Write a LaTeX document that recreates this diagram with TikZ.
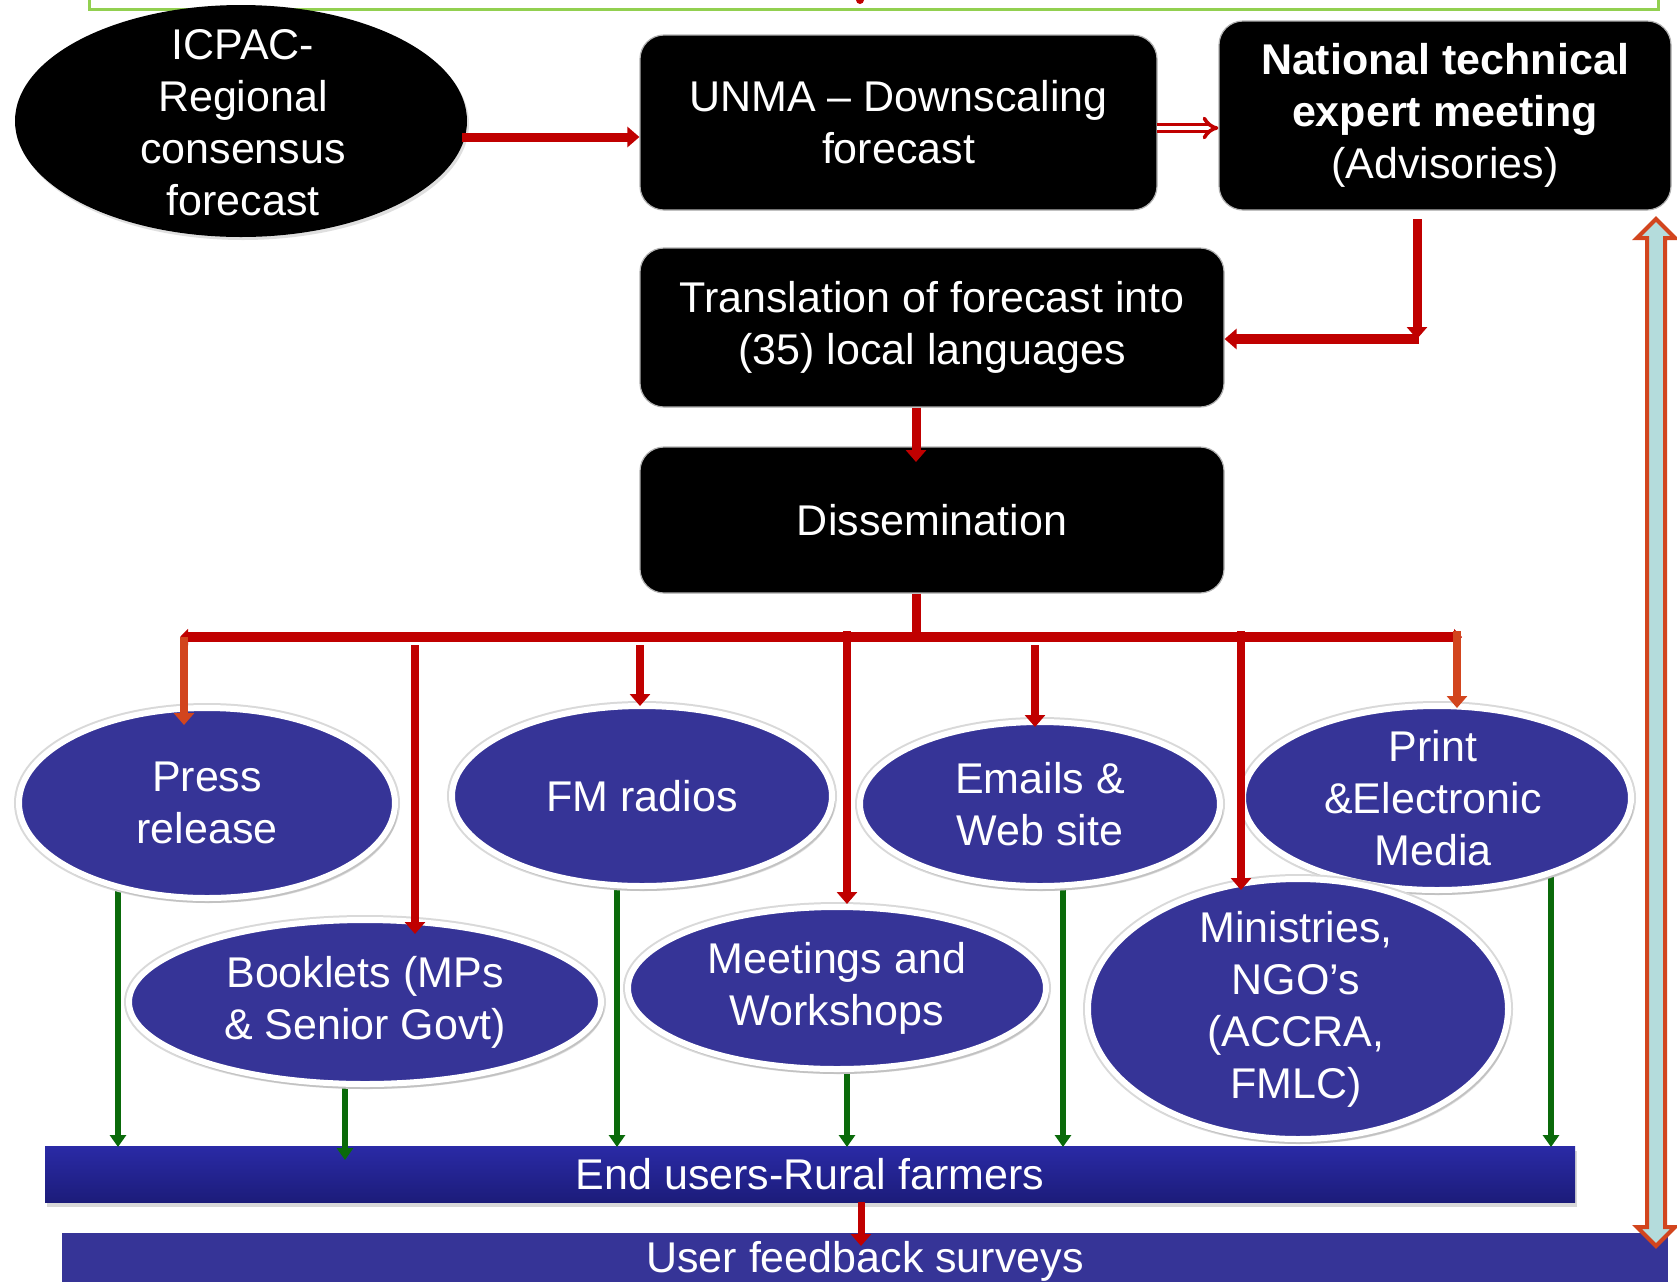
\documentclass[tikz,border=0pt]{standalone}
\usepackage{fontspec}
\setmainfont{Liberation Sans}
\usetikzlibrary{shapes.geometric,arrows.meta,shadows,calc}
\pgfdeclarelayer{back}
\pgfdeclarelayer{mid}
\pgfsetlayers{back,mid,main}
\definecolor{rd}{HTML}{C00000}
\definecolor{org}{HTML}{D2451E}
\definecolor{grn}{HTML}{0A6A0A}
\definecolor{blu}{HTML}{363497}
\definecolor{frm}{HTML}{92D050}
\definecolor{cyn}{HTML}{B4DCDC}
\definecolor{bartop}{HTML}{2A2AA6}
\definecolor{barbot}{HTML}{1C1C7A}
\begin{document}
\begin{tikzpicture}[x=0.5pt,y=-0.5pt,
  txt/.style={text=white, align=center, font=\fontsize{21.5pt}{26pt}\selectfont, inner sep=0pt},
  blk/.style={fill=black, draw=gray!60, line width=0.6pt, rounded corners=12pt, inner sep=0pt},
  bell/.style={ellipse, fill=blu, draw=white, line width=3pt, inner sep=0pt,
     preaction={draw=gray!30, line width=5pt},
     drop shadow={shadow xshift=1.5pt, shadow yshift=-2.5pt, opacity=0.25}},
  redarr/.style={draw=rd, line width=4.5pt, -{Triangle[width=10pt,length=6pt]}},
  redline/.style={draw=rd, line width=4.5pt},
  grnarr/.style={draw=grn, line width=3.2pt, -{Triangle[width=8pt,length=6pt]}},
  dblarr/.style={draw=rd, line width=1.8pt, double=white, double distance=1.8pt, -{Implies}},
  bar/.style={rectangle, inner sep=0pt, text=white, font=\fontsize{21.5pt}{26pt}\selectfont}
]
\useasboundingbox (0,0) rectangle (1677,1281);
\clip (0,0) rectangle (1677,1281);

% top frame remnant
\draw[frm, line width=1.5pt] (89,-20) rectangle (1658,9);
\fill[rd] (860,0) circle (2pt);

% top row
\node[ellipse, fill=black, minimum width=226pt, minimum height=116pt, inner sep=0pt,
      drop shadow={shadow xshift=1pt, shadow yshift=-1.5pt, opacity=0.25}] (icpac) at (241,121) {};
\node[txt] at (243,123) {ICPAC-\\Regional\\consensus\\forecast};

\node[blk, txt, minimum width=258.5pt, minimum height=87.5pt] (unma) at (898.5,122.5) {UNMA – Downscaling\\forecast};
\node[blk, txt, minimum width=226pt, minimum height=94.5pt] (nat) at (1445,115.5)
  {\textbf{National technical}\\\textbf{expert meeting}\\(Advisories)};
\node[blk, txt, minimum width=292pt, minimum height=79.5pt] (trans) at (932,327.5)
  {Translation of forecast into\\(35) local languages};
\node[blk, txt, minimum width=292pt, minimum height=73pt] (diss) at (932,520) {Dissemination};

% media ellipses
\node[bell, minimum width=188pt, minimum height=95pt] (press) at (207,803) {};
\node[txt] at (press) {Press\\release};
\node[bell, minimum width=190pt, minimum height=90pt] (fm) at (642,796) {};
\node[txt] at (fm) {FM radios};
\node[bell, minimum width=180pt, minimum height=82pt] (email) at (1040,804) {};
\node[txt] at (email) {Emails \&\\Web site};
\node[bell, minimum width=194pt, minimum height=92pt] (print) at (1437,798) {};
\node[txt] at (1433,798) {Print\\\&Electronic\\Media};
\node[bell, minimum width=236pt, minimum height=82pt] (book) at (365,1002) {};
\node[txt] at (book) {Booklets (MPs\\\& Senior Govt)};
\node[bell, minimum width=209pt, minimum height=81pt] (meet) at (837,988) {};
\node[txt] at (meet) {Meetings and\\Workshops};
\node[bell, minimum width=210pt, minimum height=130pt] (mini) at (1298,1009) {};
\node[txt] at (1296,1009) {Ministries,\\NGO’s\\(ACCRA,\\FMLC)};

% bottom bars
\begin{pgfonlayer}{back}
\fill[white] (0,0) rectangle (1677,1281);
\fill[white, drop shadow={shadow xshift=1pt, shadow yshift=-1pt, opacity=0.15}] (53,1225) rectangle (1700,1320);
\node[bar, fill=blu, minimum width=803pt, minimum height=28.5pt] (fb) at (865,1261.5) {User feedback surveys};
\node[bar, top color=bartop, bottom color=barbot, minimum width=765pt, minimum height=28pt,
      drop shadow={shadow xshift=1pt, shadow yshift=-2.5pt, opacity=0.3}] (eu) at (810,1174) {End users-Rural farmers};
\end{pgfonlayer}

% top connectors
\coordinate (ia) at (462,137);
\draw[redarr] (ia) -- (ia -| unma.west);
\coordinate (ud) at (1157,128);
\draw[dblarr] (ud) -- (ud -| nat.west);
\coordinate (n1) at (1417,219);
\coordinate (n2) at (1417,339);
\draw[redarr] (n1) -- (n2);
\draw[redarr, line width=5pt] ($(n2)+(2,0)$) -- (n2 -| trans.east);
\coordinate (td) at (916,462);
\draw[redarr] (trans.south -| td) -- (td);
\coordinate (bus) at (916,637);
\draw[redline] (diss.south -| bus) -- (bus);
\coordinate (busL) at (180,637);
\coordinate (busR) at (1462,637);
\draw[redline, line width=5pt, {Triangle[width=8pt,length=4pt]}-{Triangle[width=8pt,length=4pt]}] (busL) -- (busR);

% drops to media
\coordinate (dA) at (184,725);
\coordinate (dB) at (415,934);
\coordinate (dC) at (640,706);
\coordinate (dD) at (847,904);
\coordinate (dE) at (1035,727);
\coordinate (dF) at (1241,890);
\coordinate (dG) at (1457,708);
\draw[redarr, draw=org, line width=4pt] (dA |- bus) -- (dA);
\draw[redarr, line width=4pt] ($(dB |- bus)+(0,8)$) -- (dB);
\draw[redarr, line width=4pt] ($(dC |- bus)+(0,8)$) -- (dC);
\draw[redarr, line width=4pt] ($(dD |- bus)+(0,-6)$) -- (dD);
\draw[redarr, line width=4pt] ($(dE |- bus)+(0,8)$) -- (dE);
\draw[redarr, line width=4pt] ($(dF |- bus)+(0,-6)$) -- (dF);
\draw[redarr, draw=org, line width=4pt] ($(dG |- bus)+(0,-6)$) -- (dG);

% green arrows to end users
\coordinate (gA) at (118,1147);
\coordinate (gB) at (345,1160);
\coordinate (gC) at (617,1147);
\coordinate (gD) at (847,1147);
\coordinate (gE) at (1063,1147);
\coordinate (gF) at (1551,1147);
\begin{pgfonlayer}{mid}
\draw[grnarr] (press.center -| gA) -- (gA);
\draw[grnarr] (book.center -| gB) -- (gB);
\draw[grnarr] (fm.center -| gC) -- (gC);
\draw[grnarr] (meet.center -| gD) -- (gD);
\draw[grnarr] (email.center -| gE) -- (gE);
\draw[grnarr] (print.center -| gF) -- (gF);
\end{pgfonlayer}

% end users -> feedback
\coordinate (ef) at (861,1246);
\draw[redarr, line width=3.5pt] (eu.south -| ef) -- (ef);

% right double-headed feedback arrow
\coordinate (rt) at (1656,219);
\coordinate (rb) at (1656,1246);
\draw[org, line width=2pt, fill=cyn, line join=miter]
  (rt) -- ++(19,19) -- ++(-10,0) -- ($(rb)+(9,-19)$) -- ++(10,0) -- (rb)
  -- ++(-19,-19) -- ++(10,0) -- ($(rt)+(-9,19)$) -- ++(-10,0) -- cycle;
\end{tikzpicture}
\end{document}
